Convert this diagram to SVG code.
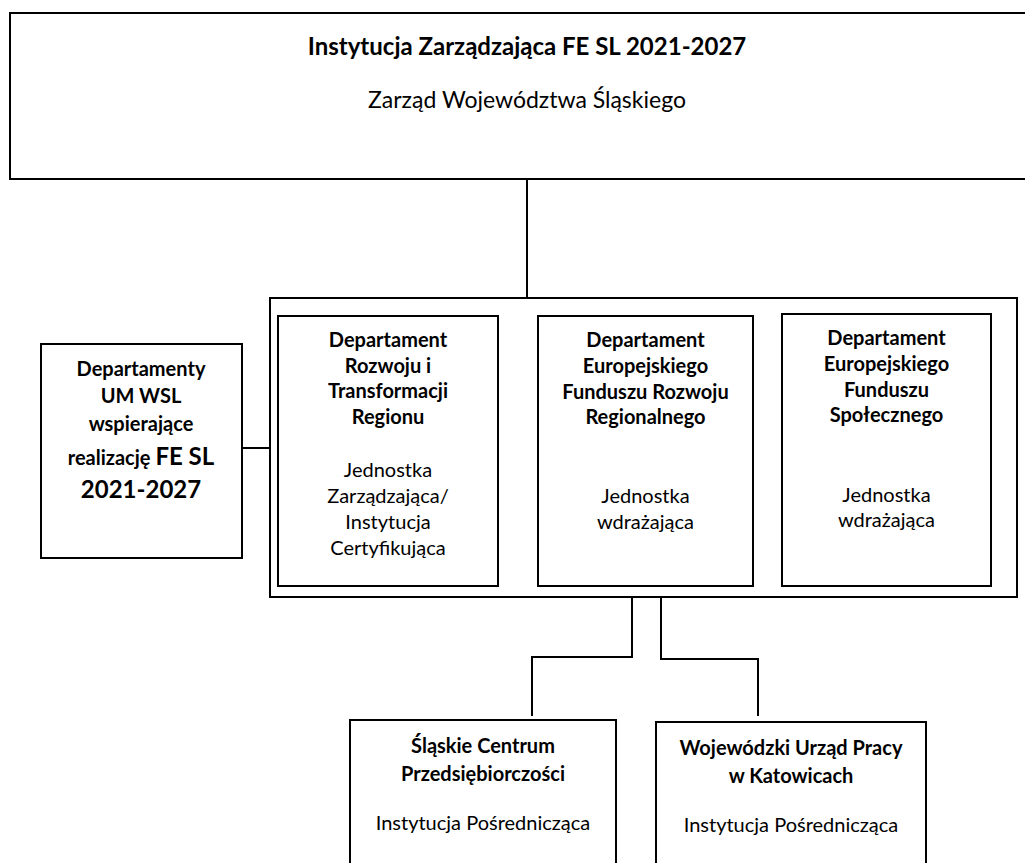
<svg xmlns="http://www.w3.org/2000/svg" width="1025" height="863" viewBox="0 0 1025 863">
<style>
  .box { fill: #ffffff; stroke: #000000; stroke-width: 2; }
  .conn { fill: none; stroke: #000000; stroke-width: 2; }
  text { font-family: Lato, "Liberation Sans", sans-serif; fill: #000000; text-anchor: middle; }
  .b { font-weight: bold; font-size: 20px; }
  .r { font-size: 20px; }
  .big { font-weight: bold; font-size: 24px; }
  .tb { font-weight: bold; font-size: 24px; }
  .tr { font-size: 23px; }
</style>
<rect width="1025" height="863" fill="#ffffff"/>
<g id="connectors">
  <line class="conn" x1="527" y1="176" x2="527" y2="297"/>
  <line class="conn" x1="242" y1="448" x2="271" y2="448"/>
  <polyline class="conn" points="632,597 632,657 532,657 532,716"/>
  <polyline class="conn" points="661,597 661,659 758,659 758,716"/>
</g>
<g id="iz">
  <rect class="box" x="10" y="13" width="1030" height="166"/>
  <text class="tb" x="527" y="55">Instytucja Zarządzająca FE SL 2021-2027</text>
  <text class="tr" x="527" y="108">Zarząd Województwa Śląskiego</text>
</g>
<g id="container">
  <rect class="box" x="270" y="298" width="747" height="299"/>
</g>
<g id="drt">
  <rect class="box" x="278" y="316" width="220" height="270"/>
  <text class="b" x="388" y="347">Departament</text>
  <text class="b" x="388" y="373">Rozwoju i</text>
  <text class="b" x="388" y="398">Transformacji</text>
  <text class="b" x="388" y="424">Regionu</text>
  <text class="r" x="388" y="477">Jednostka</text>
  <text class="r" x="388" y="503">Zarządzająca/</text>
  <text class="r" x="388" y="529">Instytucja</text>
  <text class="r" x="388" y="555">Certyfikująca</text>
</g>
<g id="defrr">
  <rect class="box" x="538" y="316" width="215" height="270"/>
  <text class="b" x="645.5" y="347">Departament</text>
  <text class="b" x="645.5" y="373">Europejskiego</text>
  <text class="b" x="645.5" y="399">Funduszu Rozwoju</text>
  <text class="b" x="645.5" y="424">Regionalnego</text>
  <text class="r" x="645.5" y="503">Jednostka</text>
  <text class="r" x="645.5" y="529">wdrażająca</text>
</g>
<g id="defs-dept">
  <rect class="box" x="782" y="314" width="209" height="272"/>
  <text class="b" x="886.5" y="345">Departament</text>
  <text class="b" x="886.5" y="371">Europejskiego</text>
  <text class="b" x="886.5" y="397">Funduszu</text>
  <text class="b" x="886.5" y="422">Społecznego</text>
  <text class="r" x="886.5" y="502">Jednostka</text>
  <text class="r" x="886.5" y="527">wdrażająca</text>
</g>
<g id="um">
  <rect class="box" x="41" y="344" width="201" height="214"/>
  <text class="b" x="141" y="376">Departamenty</text>
  <text class="b" x="141" y="403">UM WSL</text>
  <text class="b" x="141" y="431">wspierające</text>
  <text x="141" y="465"><tspan class="b">realizację </tspan><tspan class="big">FE SL</tspan></text>
  <text class="big" x="141" y="498">2021-2027</text>
</g>
<g id="scp">
  <rect class="box" x="350" y="720" width="266" height="160"/>
  <text class="b" x="483" y="753">Śląskie Centrum</text>
  <text class="b" x="483" y="781">Przedsiębiorczości</text>
  <text class="r" x="483" y="830">Instytucja Pośrednicząca</text>
</g>
<g id="wup">
  <rect class="box" x="656" y="722" width="270" height="160"/>
  <text class="b" x="791" y="755">Wojewódzki Urząd Pracy</text>
  <text class="b" x="791" y="783">w Katowicach</text>
  <text class="r" x="791" y="832">Instytucja Pośrednicząca</text>
</g>
</svg>
